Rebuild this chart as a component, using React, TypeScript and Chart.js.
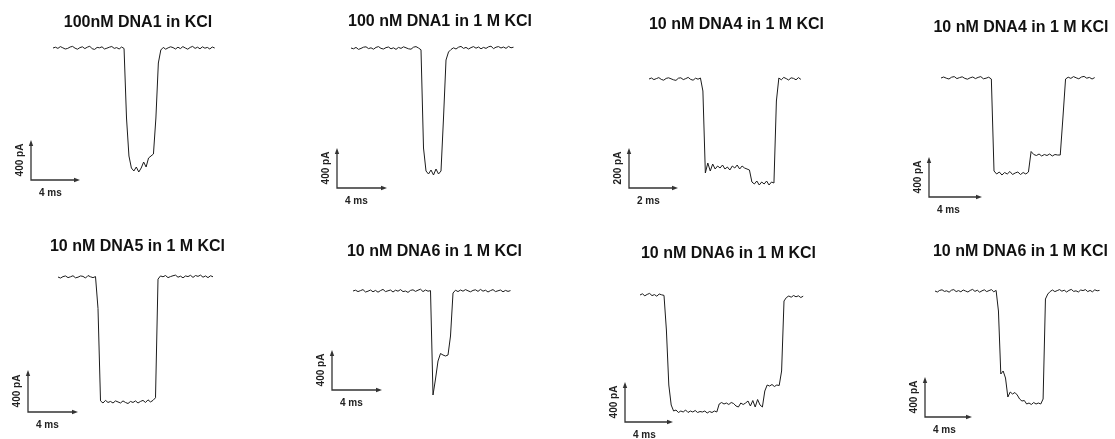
import React, { useEffect, useRef } from "react";
import { Chart, registerables } from "chart.js";

Chart.register(...registerables);

// ---------- data ----------
const TITLES = [
  "100nM DNA1 in KCl",
  "100 nM DNA1 in 1 M KCl",
  "10 nM DNA4 in 1 M KCl",
  "10 nM DNA4 in 1 M KCl",
  "10 nM DNA5 in 1 M KCl",
  "10 nM DNA6 in 1 M KCl",
  "10 nM DNA6 in 1 M KCl",
  "10 nM DNA6 in 1 M KCl",
];

// sampling interval of each trace (ms)
const SAMPLE_MS = [0.2, 0.2, 0.1, 0.2, 0.2, 0.2, 0.2, 0.2];

// current change relative to the open-pore level (pA)
const TRACE_1 = [
  0, 8, -4, 14, 2, -10, -4, 10, 16, -2,
  -12, 4, 12, -6, 8, 18, -8, -14, 6, 2,
  12, -10, -2, 8, 15, -4, 4, -10, 10, -5,
  -700, -1080, -1200, -1230, -1190, -1240, -1200, -1140, -1190, -1100,
  -1080, -1060, -700, -150, -20, 6, -12, 2, 12, 4,
  -10, 8, -6, 14, 0, -12, 6, 16, -4, 8,
  -8, 12, -2, 6, -10, 10, 0,
];
const TRACE_2 = [
  0, -8, 6, -14, -4, 8, 12, -6, 2, -12,
  6, 14, -4, -10, 4, 10, -8, 2, -14, 6,
  -4, 12, 2, -8, -12, 8, 14, 0, -18, -1000,
  -1230, -1260, -1220, -1270, -1210, -1260, -1230, -700, -120, -40,
  -15, 2, -10, 8, 16, -4, 6, -10, 4, 14,
  -2, 10, -8, 6, -4, 12, 18, -6, 8, 14,
  0, 10, -4, 16, 2, 8,
];
const TRACE_3 = [
  0, 5, -3, 2, 7, -2, -6, 3, 6, 1,
  -4, -7, 4, 6, -3, 2, 8, -2, -6, 4,
  -1, 5, -60, -470, -420, -460, -425, -450, -435, -445,
  -430, -450, -440, -455, -435, -445, -430, -450, -435, -445,
  -450, -455, -515, -525, -510, -530, -515, -525, -510, -530,
  -515, -520, -110, 5, -4, 8, 2, -5, 6, 3,
  -4, 7, -2,
];
const TRACE_4 = [
  0, 10, -2, -10, 8, 14, -6, 4, 12, -4,
  -12, 2, 10, -6, 6, 14, -8, -2, 8, -10,
  -930, -960, -940, -970, -945, -960, -935, -965, -950, -940,
  -965, -945, -960, -940, -735, -765, -775, -760, -780, -765,
  -775, -760, -780, -765, -770, -770, -400, -10, 8, -4,
  14, 2, -8, 10, 16, -2, 6, -10, 4,
];
const TRACE_5 = [
  0, -10, 4, 10, -6, 2, 12, -8, -2, 10,
  6, -10, 14, 2, -6, 4, -300, -1180, -1200, -1175,
  -1195, -1185, -1200, -1180, -1190, -1200, -1180, -1195, -1205, -1185,
  -1195, -1180, -1200, -1185, -1175, -1195, -1170, -1190, -1175, -1150,
  -20, 10, 2, 14, -6, 4, 12, 18, -2, 8,
  -8, 10, 4, 16, -4, 14, 6, 18, -2, 10,
  -6, 12, 2,
];
const TRACE_6 = [
  0, 8, -6, 4, 14, -10, -2, 10, -8, 6,
  -12, 4, 16, -6, 2, 10, -10, 8, -2, 14,
  -6, 0, -14, 6, 12, -4, 8, 18, -6, 10,
  -2, 4, -1040, -880, -700, -625, -640, -650, -640, -450,
  -20, 8, -6, 10, -2, 14, 2, -8, 6, 12,
  -4, 16, -2, 8, -10, 4, 14, -6, 2, 10,
  -8, 6, -4, 4,
];
const TRACE_7 = [
  0, 12, -8, 6, 16, -6, 4, -12, 10, 2,
  -4, -350, -900, -1100, -1160, -1150, -1175, -1160, -1170, -1150,
  -1175, -1160, -1170, -1155, -1175, -1165, -1170, -1160, -1180, -1165,
  -1175, -1160, -1170, -1090, -1075, -1090, -1080, -1095, -1075, -1085,
  -1110, -1120, -1080, -1095, -1080, -1060, -1110, -1055, -1120, -1045,
  -1100, -1120, -960, -900, -910, -895, -915, -900, -905, -760,
  -60, -25, -10, -22, -5, -18, -8, -25, -12,
];
const TRACE_8 = [
  0, -10, 6, 12, -4, 2, -12, 8, 14, -6,
  4, -8, 10, 0, -10, 6, 16, -4, 8, -12,
  2, 12, -6, 4, 14, -8, 6, -200, -830, -800,
  -870, -1060, -1010, -1030, -1015, -1040, -1080, -1100, -1095, -1130,
  -1120, -1135, -1115, -1130, -1120, -1130, -1080, -80, -30, -5,
  10, -6, 4, 14, -2, 8, -10, 6, 16, -4,
  2, -10, 10, 4, 14, -6, 6, -8, 12, 2,
  6,
];
const TRACES = [TRACE_1, TRACE_2, TRACE_3, TRACE_4, TRACE_5, TRACE_6, TRACE_7, TRACE_8];

// scale-bar sizes and units
const BAR_TIME_MS = [4, 4, 2, 4, 4, 4, 4, 4];
const BAR_CURRENT_PA = [400, 400, 200, 400, 400, 400, 400, 400];
const TIME_UNIT = "ms";
const CURRENT_UNIT = "pA";

// ---------- layout (pixels) ----------
const CELL_W = 280;
const CELL_H = 219;
const LAYOUT = [
  { left: 0, top: 0, x0: 53, y0: 48, pxMs: 12.25, pxPA: 0.1, bar: [31, 180], title: [138, 23] },
  { left: 280, top: 0, x0: 71, y0: 48, pxMs: 12.5, pxPA: 0.1, bar: [57, 188], title: [160, 22] },
  { left: 560, top: 0, x0: 89, y0: 79, pxMs: 24.5, pxPA: 0.2, bar: [69, 188], title: [176.5, 25] },
  { left: 835, top: 0, x0: 106, y0: 78, pxMs: 13.25, pxPA: 0.1, bar: [94, 197], title: [186, 27.5] },
  { left: 0, top: 220, x0: 58, y0: 57, pxMs: 12.5, pxPA: 0.105, bar: [28, 192], title: [137.5, 26.5] },
  { left: 280, top: 220, x0: 73, y0: 71, pxMs: 12.5, pxPA: 0.1, bar: [52, 170], title: [154.5, 32] },
  { left: 560, top: 220, x0: 80, y0: 75, pxMs: 12, pxPA: 0.1, bar: [65, 202], title: [168.5, 34] },
  { left: 835, top: 220, x0: 100, y0: 71, pxMs: 11.75, pxPA: 0.1, bar: [90, 197], title: [185.5, 32] },
];

const FONT_FAMILY = '"Liberation Sans", Arial, Helvetica, sans-serif';

function Panel({ idx }: { idx: number }) {
  const ref = useRef<HTMLCanvasElement | null>(null);

  useEffect(() => {
    const canvas = ref.current;
    if (!canvas) return;
    const L = LAYOUT[idx];
    const dt = SAMPLE_MS[idx];
    const points = TRACES[idx].map((v, i) => ({ x: i * dt, y: v }));

    const decor = {
      id: "decor" + idx,
      afterDraw(chart: any) {
        const ctx = chart.ctx as CanvasRenderingContext2D;
        const xs = chart.scales.x;
        const ys = chart.scales.y;
        ctx.save();
        // title
        ctx.fillStyle = "#111";
        ctx.font = `bold 16px ${FONT_FAMILY}`;
        ctx.textAlign = "center";
        ctx.textBaseline = "middle";
        ctx.fillText(TITLES[idx], L.title[0], L.title[1]);

        // scale bar
        const bx = L.bar[0];
        const by = L.bar[1];
        const t0 = xs.getValueForPixel(bx);
        const i0 = ys.getValueForPixel(by);
        const ex = xs.getPixelForValue(t0 + BAR_TIME_MS[idx]);
        const ey = ys.getPixelForValue(i0 + BAR_CURRENT_PA[idx]);
        ctx.strokeStyle = "#333";
        ctx.fillStyle = "#333";
        ctx.lineWidth = 1.3;
        ctx.beginPath();
        ctx.moveTo(bx, ey + 4);
        ctx.lineTo(bx, by);
        ctx.lineTo(ex - 4, by);
        ctx.stroke();
        ctx.beginPath();
        ctx.moveTo(bx, ey);
        ctx.lineTo(bx - 2.2, ey + 6);
        ctx.lineTo(bx + 2.2, ey + 6);
        ctx.closePath();
        ctx.fill();
        ctx.beginPath();
        ctx.moveTo(ex, by);
        ctx.lineTo(ex - 6, by - 2.2);
        ctx.lineTo(ex - 6, by + 2.2);
        ctx.closePath();
        ctx.fill();

        // scale-bar labels
        ctx.fillStyle = "#222";
        ctx.font = `bold 10px ${FONT_FAMILY}`;
        ctx.textAlign = "left";
        ctx.textBaseline = "middle";
        ctx.fillText(`${BAR_TIME_MS[idx]} ${TIME_UNIT}`, bx + 8, by + 13);
        ctx.save();
        ctx.translate(bx - 11, (by + ey) / 2);
        ctx.rotate(-Math.PI / 2);
        ctx.textAlign = "center";
        ctx.fillText(`${BAR_CURRENT_PA[idx]} ${CURRENT_UNIT}`, 0, 0);
        ctx.restore();
        ctx.restore();
      },
    };

    const chart = new Chart(canvas, {
      type: "line",
      data: {
        datasets: [
          {
            data: points,
            borderColor: "#1c1c1c",
            borderWidth: 1,
            pointRadius: 0,
            tension: 0,
            fill: false,
          },
        ],
      },
      options: {
        animation: false,
        responsive: false,
        devicePixelRatio: 1,
        layout: { padding: 0 },
        plugins: {
          legend: { display: false },
          title: { display: false },
          tooltip: { enabled: false },
        },
        events: [],
        scales: {
          x: {
            type: "linear",
            display: false,
            min: -L.x0 / L.pxMs,
            max: (CELL_W - L.x0) / L.pxMs,
          },
          y: {
            type: "linear",
            display: false,
            min: -(CELL_H - L.y0) / L.pxPA,
            max: L.y0 / L.pxPA,
          },
        },
      },
      plugins: [decor],
    } as any);

    return () => chart.destroy();
  }, [idx]);

  const L = LAYOUT[idx];
  return (
    <canvas
      ref={ref}
      width={CELL_W}
      height={CELL_H}
      style={{
        position: "absolute",
        left: L.left,
        top: L.top,
        width: CELL_W,
        height: CELL_H,
        display: "block",
      }}
    />
  );
}

export default function App() {
  return (
    <div
      style={{
        position: "absolute",
        left: 0,
        top: 0,
        width: 1115,
        height: 439,
        background: "#fff",
        overflow: "hidden",
      }}
    >
      {LAYOUT.map((_, i) => (
        <Panel key={i} idx={i} />
      ))}
    </div>
  );
}
